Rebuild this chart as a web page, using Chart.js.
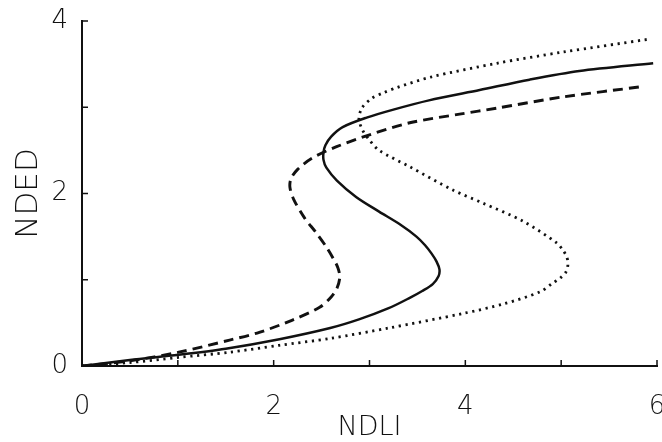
<!DOCTYPE html>
<html>
<head>
<meta charset="utf-8">
<title>NDED vs NDLI</title>
<script src="https://cdn.jsdelivr.net/npm/chart.js@4.4.1/dist/chart.umd.min.js"></script>
<style>
    html, body { margin: 0; padding: 0; background: #fff; }
    #wrap { width: 662px; height: 442px; position: relative; }
</style>
</head>
<body>
<div id="wrap"><canvas id="chart"></canvas></div>
<script>
// curve samples, traced in drawing order (x = NDLI, y = NDED)
const solidX = [0, 0.5, 1.01, 1.5, 2.06, 2.59, 2.89, 3.2, 3.42, 3.55, 3.66, 3.72, 3.73, 3.7, 3.65, 3.58, 3.49, 3.32, 3.1, 2.86, 2.66, 2.55, 2.52, 2.52, 2.54, 2.6, 2.72, 2.97, 3.24, 3.62, 4.15, 4.67, 5.19, 5.96];
const solidY = [0, 0.07, 0.13, 0.2, 0.31, 0.44, 0.54, 0.67, 0.79, 0.87, 0.95, 1.04, 1.12, 1.21, 1.3, 1.4, 1.5, 1.64, 1.79, 1.96, 2.15, 2.3, 2.39, 2.48, 2.56, 2.66, 2.77, 2.88, 2.97, 3.08, 3.2, 3.32, 3.42, 3.51];

const dashedX = [0, 0.5, 1.01, 1.54, 1.85, 2.19, 2.48, 2.6, 2.66, 2.69, 2.67, 2.62, 2.55, 2.44, 2.32, 2.21, 2.17, 2.18, 2.25, 2.4, 2.65, 3.0, 3.42, 3.94, 4.33, 5.02, 5.85];
const dashedY = [0, 0.06, 0.16, 0.3, 0.39, 0.53, 0.68, 0.8, 0.9, 1.03, 1.14, 1.25, 1.38, 1.55, 1.72, 1.93, 2.07, 2.17, 2.28, 2.41, 2.54, 2.68, 2.82, 2.92, 2.99, 3.12, 3.24];

const dottedX = [0, 0.5, 1.01, 1.54, 2.06, 2.59, 3.2, 3.98, 4.4, 4.78, 4.91, 4.99, 5.05, 5.07, 5.06, 5.02, 4.95, 4.6, 4.18, 3.87, 3.42, 3.1, 3.0, 2.93, 2.89, 2.92, 3.02, 3.15, 3.29, 3.64, 4.33, 5.02, 5.92];
const dottedY = [0, 0.04, 0.1, 0.16, 0.24, 0.32, 0.44, 0.61, 0.72, 0.86, 0.96, 1.02, 1.09, 1.17, 1.26, 1.34, 1.43, 1.68, 1.89, 2.04, 2.31, 2.5, 2.62, 2.73, 2.86, 2.99, 3.1, 3.17, 3.23, 3.35, 3.51, 3.64, 3.79];

const xRange = [0, 6];
const yRange = [0, 4];
const xTitle = "NDLI";
const yTitle = "NDED";

const INK = "#111";
const FONT = "'DejaVu Sans', 'Liberation Sans', sans-serif";

const toPoints = (xs, ys) => xs.map((x, i) => ({ x, y: ys[i] }));

// tick marks point into the plot, so draw them here instead of using grid ticks
const innerTicks = {
    id: "innerTicks",
    afterDraw(chart) {
        const { ctx, chartArea } = chart;
        const xs = chart.scales.x;
        const ys = chart.scales.y;
        ctx.save();
        ctx.strokeStyle = INK;
        ctx.lineWidth = 1.5;
        ctx.beginPath();
        xs.ticks.forEach((t) => {
            const px = xs.getPixelForValue(t.value);
            ctx.moveTo(px, chartArea.bottom);
            ctx.lineTo(px, chartArea.bottom - 6);
        });
        ys.ticks.forEach((t) => {
            const py = ys.getPixelForValue(t.value);
            ctx.moveTo(chartArea.left, py);
            ctx.lineTo(chartArea.left + 6, py);
        });
        ctx.stroke();
        ctx.restore();
    },
};

const curve = (data, dash, width) => ({
    data,
    showLine: true,
    borderColor: INK,
    borderWidth: width,
    borderDash: dash,
    borderCapStyle: "butt",
    pointRadius: 0,
    tension: 0.3,
    fill: false,
});

new Chart(document.getElementById("chart"), {
    type: "scatter",
    data: {
        datasets: [
            curve(toPoints(solidX, solidY), [], 2.5),
            curve(toPoints(dashedX, dashedY), [10, 6], 2.9),
            curve(toPoints(dottedX, dottedY), [2.2, 4.6], 2.8),
        ],
    },
    options: {
        responsive: true,
        maintainAspectRatio: false,
        animation: false,
        layout: { padding: { top: 21, right: 5, left: 0, bottom: 0 } },
        plugins: {
            legend: { display: false },
            tooltip: { enabled: false },
        },
        scales: {
            x: {
                type: "linear",
                min: xRange[0],
                max: xRange[1],
                grid: { drawOnChartArea: false, drawTicks: false },
                border: { color: INK, width: 2 },
                ticks: {
                    stepSize: 1,
                    padding: 26,
                    maxRotation: 0,
                    color: INK,
                    font: { family: FONT, size: 26, weight: 300 },
                    callback: (v) => (v % 2 === 0 ? v : ""),
                },
                title: {
                    display: true,
                    text: xTitle,
                    color: INK,
                    padding: { top: 0, bottom: -2 },
                    font: { family: FONT, size: 27, weight: 300 },
                },
                afterFit(scale) {
                    scale.height = 76;
                    scale.paddingLeft = 0;
                    scale.paddingRight = 0;
                },
            },
            y: {
                type: "linear",
                min: yRange[0],
                max: yRange[1],
                grid: { drawOnChartArea: false, drawTicks: false },
                border: { color: INK, width: 2 },
                ticks: {
                    stepSize: 1,
                    padding: 14,
                    color: INK,
                    font: { family: FONT, size: 26, weight: 300 },
                    callback: (v) => (v % 2 === 0 ? v : ""),
                },
                title: {
                    display: true,
                    text: yTitle,
                    color: INK,
                    padding: { top: 10, bottom: 0 },
                    font: { family: FONT, size: 31, weight: 300 },
                },
                afterFit(scale) {
                    scale.width = 82;
                    scale.paddingTop = 0;
                    scale.paddingBottom = 0;
                },
            },
        },
    },
    plugins: [innerTicks],
});
</script>
</body>
</html>
